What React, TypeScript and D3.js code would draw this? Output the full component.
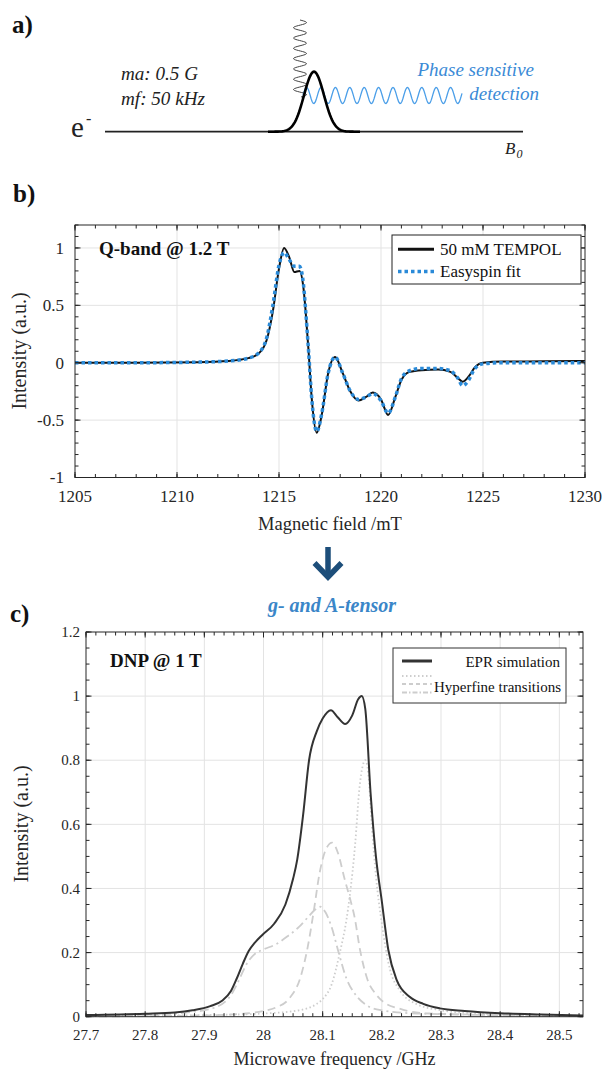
import React from "react";
import * as d3 from "d3";

const FONT = "'Liberation Serif', 'Times New Roman', serif";
const AX = "#262626";

// ---------- Panel b: Q-band EPR spectrum ----------
const fieldMT = [1205, 1208, 1211, 1212.5, 1213.5, 1214.0, 1214.4, 1214.7, 1215.0, 1215.25, 1215.5, 1215.75, 1216.0, 1216.2, 1216.3, 1216.45, 1216.6, 1216.85, 1217.1, 1217.4, 1217.75, 1218.1, 1218.5, 1218.9, 1219.25, 1219.6, 1220.0, 1220.35, 1220.7, 1221.0, 1221.4, 1222.0, 1222.8, 1223.4, 1223.75, 1224.0, 1224.3, 1224.6, 1225.0, 1226, 1228, 1230];
const tempol = [0, 0, 0.005, 0.015, 0.04, 0.08, 0.2, 0.45, 0.82, 1.0, 0.92, 0.79, 0.8, 0.65, 0.46, 0.1, -0.3, -0.61, -0.45, -0.1, 0.05, -0.08, -0.25, -0.33, -0.3, -0.26, -0.32, -0.455, -0.3, -0.15, -0.08, -0.065, -0.06, -0.08, -0.13, -0.165, -0.12, -0.04, 0.0, 0.01, 0.012, 0.015];
const easyspinFit = [0, 0, 0.005, 0.015, 0.04, 0.085, 0.22, 0.5, 0.85, 0.96, 0.9, 0.84, 0.84, 0.68, 0.47, 0.1, -0.3, -0.6, -0.44, -0.1, 0.05, -0.08, -0.25, -0.32, -0.3, -0.27, -0.33, -0.44, -0.3, -0.14, -0.07, -0.05, -0.05, -0.07, -0.13, -0.2, -0.15, -0.05, -0.01, 0, 0, 0];
const bXTicks = [1205, 1210, 1215, 1220, 1225, 1230];
const bYTicks = [-1, -0.5, 0, 0.5, 1];

// ---------- Panel c: DNP @ 1 T ----------
const eprFreq = [27.7, 27.8, 27.85, 27.88, 27.91, 27.93, 27.945, 27.955, 27.965, 27.975, 27.985, 27.998, 28.018, 28.037, 28.05, 28.057, 28.067, 28.077, 28.09, 28.1, 28.114, 28.125, 28.138, 28.15, 28.16, 28.166, 28.172, 28.181, 28.19, 28.2, 28.211, 28.225, 28.247, 28.27, 28.298, 28.34, 28.4, 28.47, 28.54];
const eprSim = [0.005, 0.009, 0.013, 0.02, 0.033, 0.05, 0.08, 0.12, 0.165, 0.205, 0.23, 0.255, 0.29, 0.35, 0.43, 0.49, 0.63, 0.8, 0.89, 0.93, 0.956, 0.935, 0.913, 0.94, 0.99, 1.0, 0.96, 0.697, 0.5, 0.36, 0.208, 0.115, 0.062, 0.04, 0.026, 0.018, 0.011, 0.007, 0.004];

const hf1Freq = [27.7, 27.9, 28.0, 28.06, 28.09, 28.1, 28.115, 28.129, 28.14, 28.146, 28.155, 28.162, 28.168, 28.172, 28.177, 28.183, 28.19, 28.2, 28.214, 28.23, 28.258, 28.3, 28.343, 28.45, 28.54];
const hf1 = [0.002, 0.005, 0.01, 0.02, 0.04, 0.055, 0.1, 0.2, 0.3, 0.38, 0.54, 0.71, 0.785, 0.8, 0.76, 0.6, 0.44, 0.29, 0.146, 0.083, 0.04, 0.02, 0.011, 0.005, 0.003];

const hf2Freq = [27.7, 27.9, 27.97, 28.0, 28.02, 28.045, 28.062, 28.075, 28.085, 28.095, 28.105, 28.116, 28.126, 28.137, 28.146, 28.154, 28.163, 28.175, 28.19, 28.2, 28.23, 28.28, 28.54];
const hf2 = [0.001, 0.004, 0.01, 0.018, 0.028, 0.06, 0.12, 0.22, 0.33, 0.45, 0.52, 0.543, 0.51, 0.43, 0.37, 0.31, 0.21, 0.12, 0.07, 0.05, 0.025, 0.01, 0.002];

const hf3Freq = [27.7, 27.8, 27.88, 27.92, 27.946, 27.96, 27.97, 27.985, 28.0, 28.02, 28.04, 28.06, 28.075, 28.088, 28.096, 28.105, 28.115, 28.127, 28.14, 28.155, 28.175, 28.2, 28.26, 28.54];
const hf3 = [0.003, 0.006, 0.015, 0.03, 0.07, 0.12, 0.16, 0.195, 0.21, 0.225, 0.25, 0.28, 0.31, 0.335, 0.343, 0.325, 0.28, 0.2, 0.12, 0.07, 0.035, 0.02, 0.01, 0.002];

const cXTicks = [27.7, 27.8, 27.9, 28.0, 28.1, 28.2, 28.3, 28.4, 28.5];
const cYTicks = [0, 0.2, 0.4, 0.6, 0.8, 1.0, 1.2];

type Sc = d3.ScaleLinear<number, number>;

function fmt(d: number) {
  return String(+d.toFixed(2));
}

function Grid({ xs, ys, xt, yt }: { xs: Sc; ys: Sc; xt: number[]; yt: number[] }) {
  const [x0, x1] = xs.range();
  const [y0, y1] = ys.range();
  return (
    <g stroke="#e3e3e3" strokeWidth={1}>
      {xt.map((t) => (
        <line key={"gx" + t} x1={xs(t)} x2={xs(t)} y1={y0} y2={y1} />
      ))}
      {yt.map((t) => (
        <line key={"gy" + t} x1={x0} x2={x1} y1={ys(t)} y2={ys(t)} />
      ))}
    </g>
  );
}

function Frame({
  xs, ys, xt, yt, xm, ym, fs, xLabY, yLabX, showTopY,
}: {
  xs: Sc; ys: Sc; xt: number[]; yt: number[]; xm: number[]; ym: number[];
  fs: number; xLabY: number; yLabX: number; showTopY?: boolean;
}) {
  const [x0, x1] = xs.range();
  const [y0, y1] = ys.range();
  const MJ = 5.5, MN = 3.5;
  return (
    <g>
      <g stroke={AX} strokeWidth={1}>
        {xm.map((t, i) => (
          <g key={"xm" + i}>
            <line x1={xs(t)} x2={xs(t)} y1={y0} y2={y0 - MN} />
            <line x1={xs(t)} x2={xs(t)} y1={y1} y2={y1 + MN} />
          </g>
        ))}
        {ym.map((t, i) => (
          <g key={"ym" + i}>
            <line x1={x0} x2={x0 + MN} y1={ys(t)} y2={ys(t)} />
            <line x1={x1} x2={x1 - MN} y1={ys(t)} y2={ys(t)} />
          </g>
        ))}
        {xt.map((t, i) => (
          <g key={"xt" + i}>
            <line x1={xs(t)} x2={xs(t)} y1={y0} y2={y0 - MJ} />
            <line x1={xs(t)} x2={xs(t)} y1={y1} y2={y1 + MJ} />
          </g>
        ))}
        {yt.map((t, i) => (
          <g key={"yt" + i}>
            <line x1={x0} x2={x0 + MJ} y1={ys(t)} y2={ys(t)} />
            <line x1={x1} x2={x1 - MJ} y1={ys(t)} y2={ys(t)} />
          </g>
        ))}
        <rect x={x0} y={y1} width={x1 - x0} height={y0 - y1} fill="none" />
      </g>
      <g fontFamily={FONT} fontSize={fs} fill={AX}>
        {xt.map((t, i) => (
          <text key={"xl" + i} x={xs(t)} y={xLabY} textAnchor="middle">{fmt(t)}</text>
        ))}
        {yt.map((t, i) => (
          <text key={"yl" + i} x={yLabX} y={ys(t)} dy="0.35em" textAnchor="end">{fmt(t)}</text>
        ))}
      </g>
    </g>
  );
}

export default function App() {
  // scales
  const bx = d3.scaleLinear().domain([1205, 1230]).range([75, 585]);
  const by = d3.scaleLinear().domain([-1, 1.2]).range([477.5, 225]);
  const cx = d3.scaleLinear().domain([27.7, 28.54]).range([86, 583]);
  const cy = d3.scaleLinear().domain([0, 1.2]).range([1016.7, 632]);

  const lineB = (ys: number[]) =>
    d3.line<number>().x((_, i) => bx(fieldMT[i])).y((d) => by(d)).curve(d3.curveMonotoneX)(ys) || "";
  const lineC = (xsArr: number[], ys: number[]) =>
    d3.line<number>().x((_, i) => cx(xsArr[i])).y((d) => cy(d)).curve(d3.curveMonotoneX)(ys) || "";

  const bXMinor = d3.range(1205, 1230.001, 1);
  const bYMinor = d3.range(-10, 12.001, 1).map((v) => v / 10);
  const cXMinor = d3.range(0, 51).map((i) => 27.7 + i / 60).filter((v) => v <= 28.54);
  const cYMinor = d3.range(0, 25).map((i) => i * 0.05);

  // ---------- Panel a schematic ----------
  const baseY = 131.7;
  const gaussPts = d3.range(268, 361, 1).map((px) => [px, baseY - 60 * Math.exp(-((px - 314) ** 2) / 200)] as [number, number]);
  const modPts = d3.range(0, 77.01, 0.5).map((t) => [300 + 6.5 * Math.sin((2 * Math.PI * t) / 10.3), 20 + t] as [number, number]);
  const detPts = d3.range(0, 159.01, 0.5).map((t) => [303 + t, 95.5 - 8 * Math.sin((2 * Math.PI * t) / 14.4)] as [number, number]);
  const pl = d3.line();

  return (
    <svg
      width={605}
      height={1070}
      viewBox="0 0 605 1070"
      style={{ position: "absolute", left: 0, top: 0, background: "#fff" }}
      fontFamily={FONT}
    >
      <rect x={0} y={0} width={605} height={1070} fill="#fff" />

      {/* ---------------- a) ---------------- */}
      <text x={12} y={33} fontSize={25} fontWeight="bold" fill="#111">a)</text>
      <text x={121} y={80} fontSize={18} fontStyle="italic" fill="#222" textLength={77} lengthAdjust="spacingAndGlyphs">ma: 0.5 G</text>
      <text x={121} y={105} fontSize={18} fontStyle="italic" fill="#222" textLength={84} lengthAdjust="spacingAndGlyphs">mf: 50 kHz</text>
      <text x={71} y={137} fontSize={29} fill="#222">e</text>
      <text x={86} y={124} fontSize={16} fill="#222">-</text>
      <line x1={105} x2={523} y1={baseY} y2={baseY} stroke="#222" strokeWidth={1.8} />
      <path d={pl(modPts) || ""} fill="none" stroke="#444" strokeWidth={1} />
      <path d={pl(detPts) || ""} fill="none" stroke="#4a9ee8" strokeWidth={1.3} />
      <path d={pl(gaussPts) || ""} fill="none" stroke="#000" strokeWidth={2.6} />
      <text x={534} y={76} fontSize={19} fontStyle="italic" fill="#3a8ad6" textAnchor="end">Phase sensitive</text>
      <text x={539} y={100} fontSize={19} fontStyle="italic" fill="#3a8ad6" textAnchor="end">detection</text>
      <text x={505} y={154} fontSize={17} fontStyle="italic" fill="#222">B</text>
      <text x={516.5} y={158} fontSize={12} fontStyle="italic" fill="#222">0</text>

      {/* ---------------- b) ---------------- */}
      <text x={13} y={202} fontSize={25} fontWeight="bold" fill="#111">b)</text>
      <Grid xs={bx} ys={by} xt={[1210, 1215, 1220, 1225]} yt={[-0.5, 0, 0.5, 1]} />
      <path d={lineB(tempol)} fill="none" stroke="#111" strokeWidth={2} />
      <path d={lineB(easyspinFit)} fill="none" stroke="#2a8ad8" strokeWidth={3.5} strokeDasharray="3.5 3" />
      <Frame xs={bx} ys={by} xt={bXTicks} yt={bYTicks} xm={bXMinor} ym={bYMinor} fs={17} xLabY={502} yLabX={64} />
      <text x={99} y={255} fontSize={19} fontWeight="bold" fill="#111">Q-band @ 1.2 T</text>
      <g>
        <rect x={392} y={235} width={189} height={49} fill="#fff" stroke="#222" strokeWidth={1} />
        <line x1={398} x2={434} y1={249.3} y2={249.3} stroke="#111" strokeWidth={3} />
        <line x1={398} x2={434} y1={271.5} y2={271.5} stroke="#2a8ad8" strokeWidth={3.5} strokeDasharray="3.5 3" />
        <text x={440} y={255} fontSize={17} fill="#111">50 mM TEMPOL</text>
        <text x={440} y={277} fontSize={17} fill="#111">Easyspin fit</text>
      </g>
      <text transform="translate(26,351) rotate(-90)" fontSize={20} fill={AX} textAnchor="middle">Intensity (a.u.)</text>
      <text x={330} y={530} fontSize={18.5} fill={AX} textAnchor="middle">Magnetic field /mT</text>

      {/* ---------------- arrow ---------------- */}
      <g stroke="#1d4e7a" strokeWidth={5.5} fill="none" strokeLinecap="butt" strokeLinejoin="miter">
        <line x1={328} x2={328} y1={547} y2={576} />
        <path d="M314.5,563 L328,577 L341.5,563" />
      </g>
      <text x={332} y={612} fontSize={20} fontWeight="bold" fontStyle="italic" fill="#3a86c8" textAnchor="middle">g- and A-tensor</text>

      {/* ---------------- c) ---------------- */}
      <text x={10} y={622} fontSize={25} fontWeight="bold" fill="#111">c)</text>
      <Grid xs={cx} ys={cy} xt={cXTicks.slice(1)} yt={[0.2, 0.4, 0.6, 0.8, 1.0]} />
      <path d={lineC(hf3Freq, hf3)} fill="none" stroke="#cdcdcd" strokeWidth={1.8} strokeDasharray="9 4 2 4" />
      <path d={lineC(hf2Freq, hf2)} fill="none" stroke="#cdcdcd" strokeWidth={1.8} strokeDasharray="8 5" />
      <path d={lineC(hf1Freq, hf1)} fill="none" stroke="#cdcdcd" strokeWidth={1.8} strokeDasharray="1.5 2.5" />
      <path d={lineC(eprFreq, eprSim)} fill="none" stroke="#333" strokeWidth={2} />
      <Frame xs={cx} ys={cy} xt={cXTicks} yt={cYTicks} xm={cXMinor} ym={cYMinor} fs={15} xLabY={1040} yLabX={80} />
      <text x={110} y={667} fontSize={19} fontWeight="bold" fill="#111">DNP @ 1 T</text>
      <g>
        <rect x={393} y={648} width={173} height={55} fill="#fff" stroke="#333" strokeWidth={1} />
        <line x1={402} x2={432} y1={661} y2={661} stroke="#333" strokeWidth={3} />
        <line x1={402} x2={432} y1={676} y2={676} stroke="#cdcdcd" strokeWidth={1.8} strokeDasharray="1.5 2.5" />
        <line x1={402} x2={432} y1={684} y2={684} stroke="#cdcdcd" strokeWidth={1.8} strokeDasharray="4 3" />
        <line x1={402} x2={432} y1={692.5} y2={692.5} stroke="#cdcdcd" strokeWidth={1.8} strokeDasharray="5 2 1.5 2" />
        <text x={560} y={666.5} fontSize={15} fill="#111" textAnchor="end">EPR simulation</text>
        <text x={561} y={691.5} fontSize={15} fill="#111" textAnchor="end">Hyperfine transitions</text>
      </g>
      <text transform="translate(28,824) rotate(-90)" fontSize={20} fill={AX} textAnchor="middle">Intensity (a.u.)</text>
      <text x={334.5} y={1065} fontSize={18} fill={AX} textAnchor="middle">Microwave frequency /GHz</text>
    </svg>
  );
}
